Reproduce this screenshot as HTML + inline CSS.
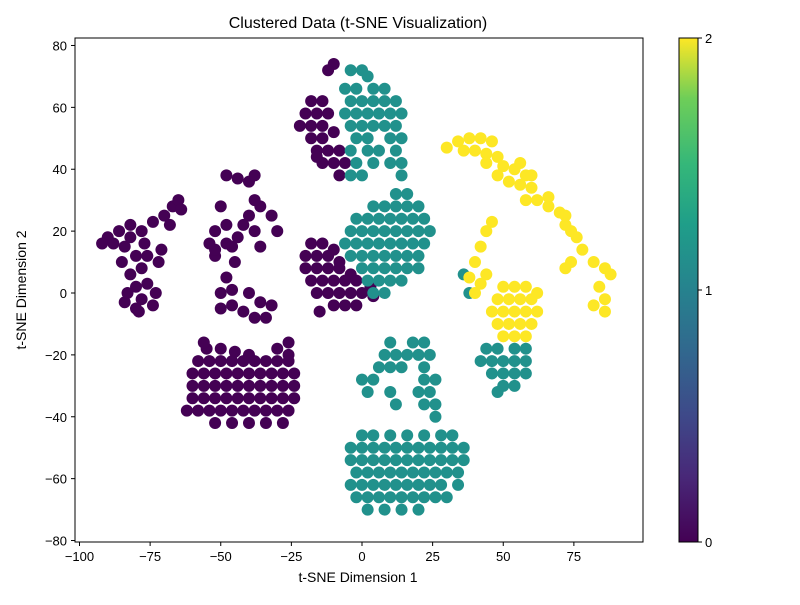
<!DOCTYPE html>
<html><head><meta charset="utf-8">
<style>
body{margin:0;background:#fff;}
svg text{font-family:"Liberation Sans",sans-serif;fill:#000;}
</style></head>
<body>
<svg id="chart" width="800" height="600" xmlns="http://www.w3.org/2000/svg">
<defs>
<linearGradient id="vir" x1="0" y1="1" x2="0" y2="0">
<stop offset="0" stop-color="#440154"/><stop offset="0.13" stop-color="#482878"/><stop offset="0.25" stop-color="#3e4989"/><stop offset="0.38" stop-color="#31688e"/><stop offset="0.5" stop-color="#26828e"/><stop offset="0.63" stop-color="#1f9e89"/><stop offset="0.75" stop-color="#35b779"/><stop offset="0.88" stop-color="#6ece58"/><stop offset="1" stop-color="#fde725"/>
</linearGradient>
</defs>
<text x="358" y="28" font-size="16" text-anchor="middle">Clustered Data (t-SNE Visualization)</text>
<g id="points"></g>
<rect x="75" y="38" width="568" height="504" fill="none" stroke="#000" stroke-width="1"/>
<g id="xticks"></g>
<g id="yticks"></g>
<text x="358" y="582" font-size="14" text-anchor="middle">t-SNE Dimension 1</text>
<text x="26" y="290" font-size="14" text-anchor="middle" transform="rotate(-90 26 290)">t-SNE Dimension 2</text>
<rect x="679" y="38" width="19" height="504" fill="url(#vir)" stroke="#000" stroke-width="1"/>
<g id="cbticks"></g>
</svg>
<script>
const xTicks=[-100,-75,-50,-25,0,25,50,75];
const yTicks=[-80,-60,-40,-20,0,20,40,60,80];
const cbTicks=[0,1,2];
const colors=["#440154","#21918c","#fde725"];
// cluster 0 points
const pts0="-90 18,-92 16,-86 20,-82 22,-78 20,-74 23,-70 25,-67 28,-65 30,-64 27,-68 22,-84 15,-80 12,-78 8,-82 6,-80 2,-76 3,-78 -2,-74 -4,-80 -5,-84 -3,-76 12,-72 10,-73 0,-85 10,-88 16,-82 18,-77 16,-71 14,-83 0,-79 -6,"+
"-48 38,-44 37,-40 36,-38 38,-50 28,-52 20,-48 16,-52 12,-45 10,-48 5,-50 0,-46 -4,-42 -6,-38 -8,-34 -8,-36 -3,-40 0,-50 -5,-40 25,-36 28,-32 25,-38 20,-30 20,-42 22,-36 15,-52 14,-46 15,-48 22,-44 18,-38 30,-54 16,-46 1,-32 -4,"+
"-55 -18,-50 -18,-45 -19,-40 -20,-30 -18,-26 -20,-58 -22,-54 -22,-50 -22,-46 -22,-42 -22,-38 -22,-34 -22,-30 -22,-26 -22,-60 -26,-56 -26,-52 -26,-48 -26,-44 -26,-40 -26,-36 -26,-32 -26,-28 -26,-24 -26,-60 -30,-56 -30,-52 -30,-48 -30,-44 -30,-40 -30,-36 -30,-32 -30,-28 -30,-24 -30,-60 -34,-56 -34,-52 -34,-48 -34,-44 -34,-40 -34,-36 -34,-32 -34,-28 -34,-24 -34,-62 -38,-58 -38,-54 -38,-50 -38,-46 -38,-42 -38,-38 -38,-34 -38,-30 -38,-26 -38,-52 -42,-46 -42,-40 -42,-34 -42,-28 -42,-56 -16,-26 -16,"+
"-18 16,-14 16,-10 14,-20 12,-16 12,-12 12,-8 10,-20 8,-16 8,-12 8,-8 8,-4 6,-18 4,-14 4,-10 4,-6 4,-2 4,3 2,-16 0,-12 0,-8 0,-4 0,0 0,4 -1,-10 -4,-6 -4,-2 -4,-15 -6,"+
"-18 62,-14 62,-20 58,-16 58,-12 58,-22 54,-18 54,-14 54,-18 50,-14 50,-10 52,-16 46,-12 46,-8 46,-14 42,-10 42,-6 42,-8 38,-10 74,-12 72,-16 44";
// cluster 1 points
const pts1="-4 72,0 72,2 70,-6 66,-2 66,4 66,8 66,-4 62,0 62,4 62,8 62,12 62,-6 58,-2 58,2 58,6 58,10 58,14 58,-4 54,0 54,4 54,8 54,12 54,-2 50,2 50,10 50,14 50,-4 46,2 46,6 46,12 46,-2 42,4 42,10 42,14 42,-4 38,0 38,14 38,"+
"12 32,16 32,4 28,8 28,12 28,16 28,20 28,-2 24,2 24,6 24,10 24,14 24,18 24,22 24,-4 20,0 20,4 20,8 20,12 20,16 20,20 20,24 20,-6 16,-2 16,2 16,6 16,10 16,14 16,18 16,22 16,-4 12,0 12,4 12,8 12,12 12,16 12,20 12,0 8,4 8,8 8,12 8,16 8,20 8,2 4,6 4,10 4,14 4,4 0,8 0,"+
"10 -16,18 -16,22 -16,8 -20,12 -20,16 -20,20 -20,24 -20,6 -24,10 -24,14 -24,22 -24,0 -28,4 -28,22 -28,26 -28,2 -32,10 -32,20 -32,24 -32,12 -36,22 -36,26 -36,26 -40,"+
"0 -46,4 -46,10 -46,16 -46,22 -46,28 -46,32 -46,-4 -50,0 -50,4 -50,8 -50,12 -50,16 -50,20 -50,24 -50,28 -50,32 -50,36 -50,-4 -54,0 -54,4 -54,8 -54,12 -54,16 -54,20 -54,24 -54,28 -54,32 -54,36 -54,-2 -58,2 -58,6 -58,10 -58,14 -58,18 -58,22 -58,26 -58,30 -58,34 -58,-4 -62,0 -62,4 -62,8 -62,12 -62,16 -62,20 -62,24 -62,28 -62,34 -62,-2 -66,2 -66,6 -66,10 -66,14 -66,18 -66,22 -66,26 -66,30 -66,2 -70,8 -70,14 -70,20 -70,"+
"44 -18,48 -18,54 -18,58 -18,42 -22,46 -22,50 -22,54 -22,58 -22,46 -26,50 -26,54 -26,58 -26,50 -30,54 -30,48 -32,36 6,38 0";
// cluster 2 points
const pts2="30 47,34 49,38 50,42 50,46 49,40 46,44 45,48 44,50 41,54 40,58 38,48 38,52 36,56 35,60 34,58 30,62 30,66 28,70 26,72 22,74 20,76 18,78 14,82 10,86 8,88 6,84 2,86 -2,86 -6,82 -4,60 38,56 42,74 10,72 8,44 42,36 46,72 25,66 31,"+
"38 5,40 10,42 15,44 20,46 23,42 3,44 6,40 0,"+
"50 2,54 2,58 2,62 0,48 -2,52 -2,56 -2,60 -2,46 -6,50 -6,54 -6,58 -6,62 -6,48 -10,52 -10,56 -10,60 -10,50 -14,54 -14,58 -14";
const ptsByCluster=[pts0,pts1,pts2];
function sx(v){return 362+v*2.825;}
function sy(v){return 293-v*3.094;}
function cy(v){return 542-v*252;}
const NS="http://www.w3.org/2000/svg";
const g=document.getElementById('points');
ptsByCluster.forEach((s,ci)=>{
  s.split(',').forEach(p=>{
    const [x,y]=p.trim().split(/\s+/).map(Number);
    const c=document.createElementNS(NS,'circle');
    c.setAttribute('cx',sx(x));c.setAttribute('cy',sy(y));c.setAttribute('r',6);c.setAttribute('fill',colors[ci]);
    
    
    g.appendChild(c);
  });
});
const xg=document.getElementById('xticks');
xTicks.forEach(t=>{
  const l=document.createElementNS(NS,'line');
  l.setAttribute('x1',sx(t));l.setAttribute('x2',sx(t));l.setAttribute('y1',542);l.setAttribute('y2',546);l.setAttribute('stroke','#000');
  
  
  xg.appendChild(l);
  const tx=document.createElementNS(NS,'text');
  tx.setAttribute('x',sx(t));tx.setAttribute('y',561);tx.setAttribute('font-size','13');tx.setAttribute('text-anchor','middle');
  tx.textContent=String(t).replace('-','\u2212');
  
  
  xg.appendChild(tx);
});
const yg=document.getElementById('yticks');
yTicks.forEach(t=>{
  const l=document.createElementNS(NS,'line');
  l.setAttribute('x1',71);l.setAttribute('x2',75);l.setAttribute('y1',sy(t));l.setAttribute('y2',sy(t));l.setAttribute('stroke','#000');
  
  
  yg.appendChild(l);
  const tx=document.createElementNS(NS,'text');
  tx.setAttribute('x',67);tx.setAttribute('y',sy(t)+5);tx.setAttribute('font-size','13');tx.setAttribute('text-anchor','end');
  tx.textContent=String(t).replace('-','\u2212');
  
  
  yg.appendChild(tx);
});
const cg=document.getElementById('cbticks');
cbTicks.forEach(t=>{
  const l=document.createElementNS(NS,'line');
  l.setAttribute('x1',698);l.setAttribute('x2',702);l.setAttribute('y1',cy(t));l.setAttribute('y2',cy(t));l.setAttribute('stroke','#000');
  
  
  cg.appendChild(l);
  const tx=document.createElementNS(NS,'text');
  tx.setAttribute('x',705);tx.setAttribute('y',cy(t)+5);tx.setAttribute('font-size','13');
  tx.textContent=String(t);
  
  
  cg.appendChild(tx);
});
</script>
</body></html>
